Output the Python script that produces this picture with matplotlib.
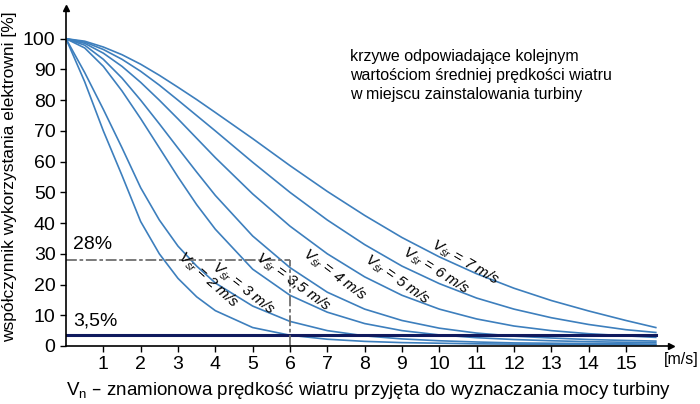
import matplotlib.pyplot as plt

# prędkość znamionowa Vn [m/s]
vn = [0, 0.5, 1, 1.5, 2, 2.5, 3, 3.5, 4, 5, 6, 7, 8, 9, 10, 11, 12, 13, 14, 15, 15.8]

# współczynnik wykorzystania [%] dla kolejnych średnich prędkości wiatru
v2 = [100, 86.0, 70.0, 55.5, 40.5, 30.0, 22.0, 16.0, 11.5, 6.0, 3.5, 2.2, 1.5, 1.1, 0.9, 0.7, 0.6, 0.5, 0.45, 0.4, 0.35]
v3 = [100, 89.0, 77.0, 64.5, 51.5, 41.0, 32.5, 26.0, 20.5, 13.0, 8.0, 5.0, 3.3, 2.3, 1.7, 1.3, 1.0, 0.9, 0.8, 0.7, 0.6]
v35 = [100, 97.0, 91.0, 83.0, 74.0, 64.5, 55.0, 46.0, 38.0, 25.0, 16.5, 11.0, 7.3, 5.0, 3.6, 2.7, 2.1, 1.7, 1.4, 1.2, 1.1]
v4 = [100, 97.9, 93.3, 87.2, 80.0, 72.3, 64.4, 56.6, 49.0, 35.8, 25.5, 17.5, 12.0, 8.3, 5.8, 4.2, 3.2, 2.6, 2.1, 1.8, 1.6]
v5 = [100, 98.5, 95.3, 91.0, 85.8, 80.0, 73.9, 67.6, 61.3, 49.5, 39.0, 30.0, 22.5, 16.5, 12.0, 8.8, 6.5, 5.0, 4.0, 3.3, 2.8]
v6 = [100, 98.9, 96.5, 93.3, 89.4, 84.9, 80.0, 75.0, 70.0, 59.8, 50.0, 41.0, 33.0, 26.0, 20.3, 15.6, 12.0, 9.2, 7.0, 5.3, 4.4]
v7 = [100, 99.2, 97.3, 94.8, 91.7, 88.1, 84.2, 80.2, 76.0, 67.5, 58.7, 50.3, 42.5, 35.3, 29.0, 23.5, 18.8, 14.8, 11.4, 8.3, 6.0]

krzywe = [v2, v3, v35, v4, v5, v6, v7]
etykiety = ["2 m/s", "3 m/s", "3,5 m/s", "4 m/s", "5 m/s", "6 m/s", "7 m/s"]
# położenie i kąt opisów krzywych
opis_x = [3.8, 4.74, 6.08, 7.21, 8.87, 9.91, 10.69]
opis_y = [21.5, 18.6, 20.8, 23.1, 21.5, 24.4, 27.3]
opis_kat = [-42, -38, -36, -37, -35, -32, -30]

vn_punkt = 6
wsp_punkt = 28
wsp_min = 3.5

plt.rcParams["font.family"] = ["Liberation Sans", "DejaVu Sans"]

fig = plt.figure(figsize=(7, 4.04), dpi=100)
ax = fig.add_axes([0.0943, 0.1436, 0.8639, 0.8366])

niebieski = "#3d7fbd"
for y in krzywe:
    ax.plot(vn, y, color=niebieski, lw=1.2)

ax.plot([0, vn[-1]], [wsp_min, wsp_min], color="#101a5e", lw=2.2)
kreska = (0, (6, 1.5, 2, 1.5))
ax.plot([0, vn_punkt], [wsp_punkt, wsp_punkt], color="#707070", lw=1.3, ls=kreska)
ax.plot([vn_punkt, vn_punkt], [0, wsp_punkt], color="#707070", lw=1.3, ls=kreska)

ax.text(0.2, wsp_punkt + 2.3, "28%", fontsize=14, va="bottom")
ax.text(0.2, wsp_min + 1.8, "3,5%", fontsize=14, va="bottom")

for x, y, kat, tekst in zip(opis_x, opis_y, opis_kat, etykiety):
    ax.text(x, y, "V$_\\mathregular{śr}$ = " + tekst, fontsize=11, style="italic",
            rotation=kat, ha="center", va="center", rotation_mode="anchor")

ax.text(7.6, 96.5, "krzywe odpowiadające kolejnym\nwartościom średniej prędkości wiatru\nw miejscu zainstalowania turbiny",
        fontsize=11.5, va="top", linespacing=1.3)

ax.set_xlim(0, 16.2)
ax.set_ylim(0, 110)
ax.set_xticks(range(1, 16))
ax.set_yticks(range(0, 101, 10))
ax.tick_params(labelsize=14, length=4, width=1)
ax.spines["top"].set_visible(False)
ax.spines["right"].set_visible(False)
ax.spines["left"].set_linewidth(1.2)
ax.spines["bottom"].set_linewidth(1.2)
# strzałki osi
ax.plot(1, 0, ">k", transform=ax.transAxes, clip_on=False, markersize=5)
ax.plot(0, 1, "^k", transform=ax.transAxes, clip_on=False, markersize=5)

ax.text(16.02, -4.4, "[m/s]", fontsize=11.5, va="center")
ax.set_ylabel("współczynnik wykorzystania elektrowni [%]", fontsize=12.5, labelpad=4)
ax.set_xlabel("V$_\\mathregular{n}$ – znamionowa prędkość wiatru przyjęta do wyznaczania mocy turbiny",
              fontsize=13.5, labelpad=5)

plt.savefig("out.png", dpi=100)
